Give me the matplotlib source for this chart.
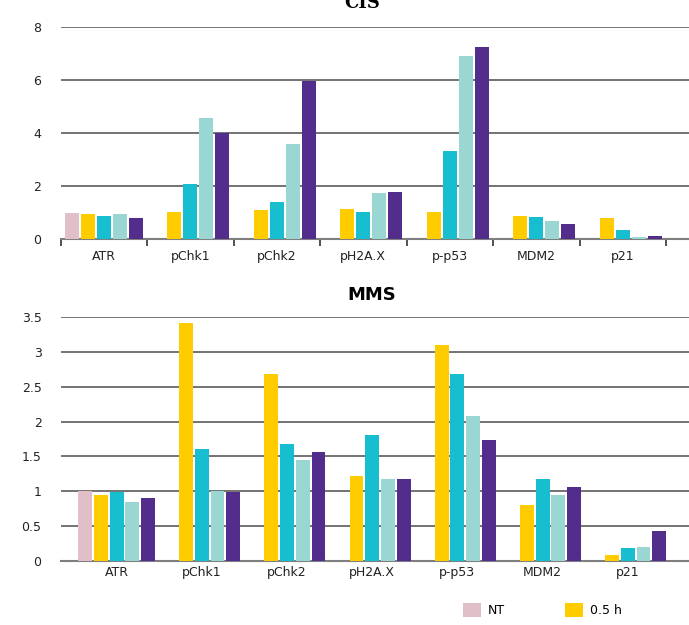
import numpy as np
import matplotlib
matplotlib.use("Agg")
import matplotlib.pyplot as plt
from matplotlib.patches import Patch
from matplotlib.ticker import FormatStrFormatter, FixedLocator

categories = ["ATR", "pChk1", "pChk2", "pH2A.X", "p-p53", "MDM2", "p21"]
series_names = ["NT", "0.5 h", "1 h", "2 h", "4 h"]
colors = ["#E0BFC8", "#FFCC00", "#17BECF", "#9AD6D2", "#522D8C"]

cis_nt   = [1.00, None, None, None, None, None, None]
cis_05h  = [0.94, 1.03, 1.11, 1.14, 1.02, 0.86, 0.78]
cis_1h   = [0.86, 2.09, 1.38, 1.02, 3.33, 0.82, 0.35]
cis_2h   = [0.94, 4.57, 3.57, 1.72, 6.89, 0.67, 0.09]
cis_4h   = [0.78, 4.01, 5.95, 1.77, 7.23, 0.55, 0.10]

mms_nt   = [1.00, None, None, None, None, None, None]
mms_05h  = [0.94, 3.42, 2.68, 1.22, 3.10, 0.80, 0.08]
mms_1h   = [0.99, 1.61, 1.68, 1.81, 2.68, 1.18, 0.18]
mms_2h   = [0.85, 1.00, 1.45, 1.18, 2.08, 0.94, 0.20]
mms_4h   = [0.90, 0.99, 1.56, 1.18, 1.73, 1.06, 0.43]

cis_series = [cis_nt, cis_05h, cis_1h, cis_2h, cis_4h]
mms_series = [mms_nt, mms_05h, mms_1h, mms_2h, mms_4h]

W, H = 689, 625
fig = plt.figure(figsize=(W / 100, H / 100), dpi=100)

pitch = 0.185
x = np.arange(len(categories))


def draw(ax, series, yticks, ylim, title, title_font, title_y, boundary_ticks):
    for i, (vals, c) in enumerate(zip(series, colors)):
        v = np.array([np.nan if a is None else a for a in vals], dtype=float)
        ax.bar(x + (i - 2) * pitch, v, width=pitch * 0.88, color=c,
               linewidth=0, zorder=3)
    ax.set_ylim(*ylim)
    ax.set_yticks(yticks)
    ax.yaxis.set_major_formatter(FormatStrFormatter("%g"))
    ax.grid(axis="y", color="#4d4d4d", linewidth=1.1, zorder=0)
    ax.set_axisbelow(True)
    for s in ["top", "right", "left"]:
        ax.spines[s].set_visible(False)
    ax.spines["bottom"].set_color("#7f7f7f")
    ax.spines["bottom"].set_linewidth(1.5)
    ax.set_xticks(x)
    ax.set_xticklabels(categories, fontsize=9, color="#222222")
    ax.tick_params(axis="x", which="major", length=0,
                   pad=8 if boundary_ticks else 4)
    if boundary_ticks:
        ax.xaxis.set_minor_locator(FixedLocator(np.arange(-0.5, len(categories), 1.0)))
        ax.tick_params(axis="x", which="minor", length=5, width=1.2,
                       color="#333333", direction="out")
    ax.tick_params(axis="y", length=0, pad=14, labelsize=9, labelcolor="#222222")
    fig.text(title_font[2], title_y, title, ha="center", va="center",
             fontsize=title_font[1], fontweight="bold", family=title_font[0])


# top axes (CIS)
ax1 = fig.add_axes([60.6 / W, 1 - 239 / H, 1 - 60.6 / W, (239 - 27) / H])
ax1.set_xlim(-0.5, -0.5 + (W - 60.6) / 86.5)
draw(ax1, cis_series, [0, 2, 4, 6, 8], (0, 8), "CIS",
     ("DejaVu Serif", 13, 362 / W), 1 - 3 / H, True)

# bottom axes (MMS)
ax2 = fig.add_axes([61 / W, 1 - 560.7 / H, 1 - 61 / W, (560.7 - 317.3) / H])
ax2.set_xlim(-0.5 - 13 / 85.2, -0.5 + (W - 74) / 85.2)
draw(ax2, mms_series, [0, 0.5, 1, 1.5, 2, 2.5, 3, 3.5], (0, 3.5), "MMS",
     ("DejaVu Sans", 13, 372 / W), 1 - 295 / H, False)

# only the legend entries visible in the (cropped) reference
handles = [Patch(facecolor=c, edgecolor="none") for c in colors[:2]]
fig.legend(handles, series_names[:2], loc="center left",
           bbox_to_anchor=(463 / W, 1 - 610 / H), ncol=2, frameon=False,
           fontsize=9, handlelength=1.45, handleheight=1.45,
           handletextpad=0.55, columnspacing=4.75, borderpad=0,
           borderaxespad=0)

fig.savefig("out.png", dpi=100)
